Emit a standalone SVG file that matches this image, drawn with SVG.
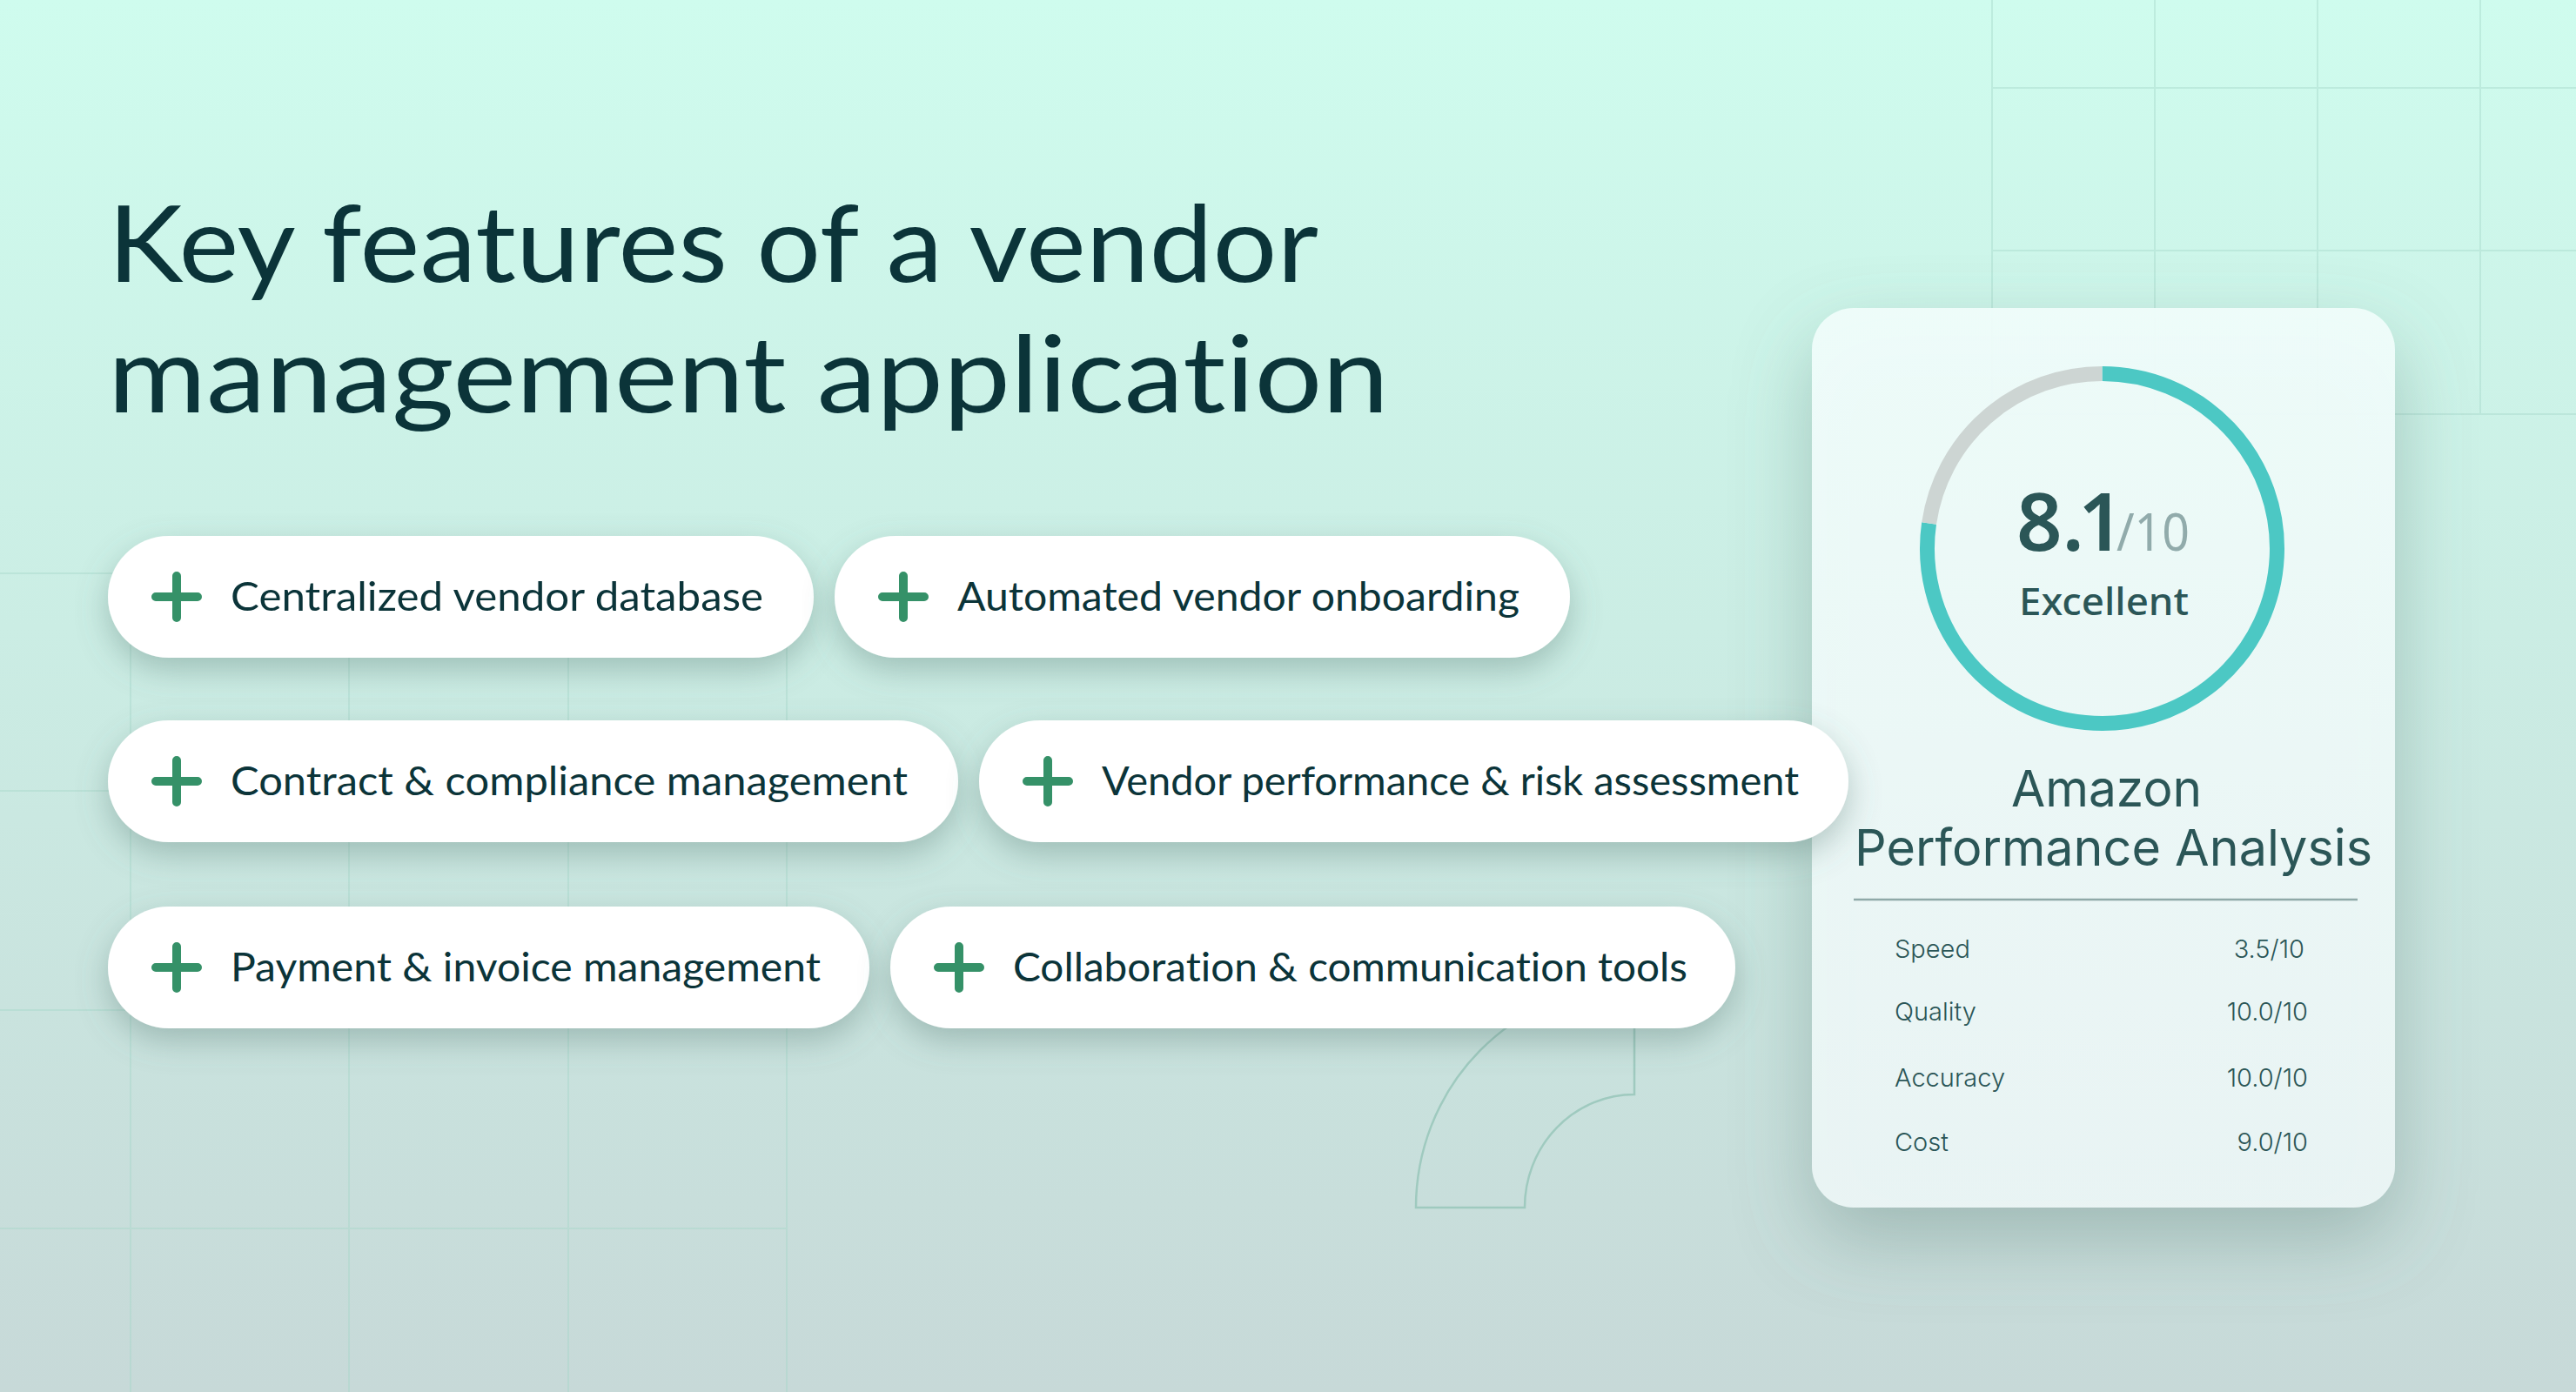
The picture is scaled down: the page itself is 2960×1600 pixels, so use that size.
<svg xmlns="http://www.w3.org/2000/svg" width="2960" height="1600" viewBox="0 0 2960 1600">
<defs>
<linearGradient id="bg" x1="0" y1="0" x2="0" y2="1"><stop offset="0" stop-color="#CFFCEE"/><stop offset="0.45" stop-color="#CBEDE4"/><stop offset="1" stop-color="#C7D9D8"/></linearGradient>
<linearGradient id="cardfill" x1="0" y1="0" x2="0" y2="1"><stop offset="0" stop-color="#F0FDFB"/><stop offset="1" stop-color="#ECF6F6"/></linearGradient>
<filter id="chipShadow" x="-10%" y="-30%" width="120%" height="180%"><feDropShadow dx="0" dy="14" stdDeviation="18" flood-color="#54786F" flood-opacity="0.38"/></filter>
<filter id="cardShadow" x="-25%" y="-15%" width="150%" height="135%"><feDropShadow dx="0" dy="36" stdDeviation="44" flood-color="#54786F" flood-opacity="0.38"/></filter>
<path id="plus" d="M-24 0H24M0 -24V24"/>
</defs>
<style>
.grid{fill:none;stroke:#A5D6C8;stroke-opacity:.42;stroke-width:2}
.chip{fill:#fff;filter:url(#chipShadow)}
.plus{fill:none;stroke:#359168;stroke-width:10;stroke-linecap:round}
.h1{font-family:"Lato","Liberation Sans",sans-serif;font-size:122px;fill:#0B3439;font-variant-ligatures:none}
.lab{font-family:"Lato","Liberation Sans",sans-serif;font-size:47px;fill:#0B3439;font-variant-ligatures:none}
.sc{font-family:"Noto Sans","Liberation Sans",sans-serif;fill:#2B5657}
.in{font-family:"Inter","Liberation Sans",sans-serif;fill:#2B5657}
.row{font-size:29px;font-weight:300}
.end{text-anchor:end}
</style>
<rect width="2960" height="1600" fill="url(#bg)"/>
<g id="background-grid" class="grid">
<path d="M150 659V1600M401 659V1600M653 659V1600M904 659V1600M0 659H904M0 909H904M0 1161H904M0 1412H904"/>
<path d="M2289 0V476M2476 0V476M2663 0V476M2850 0V476M2289 101H2960M2289 288H2960M2289 476H2960"/>
</g>
<path id="arc-shape" d="M1627 1388A251 255 0 0 1 1878 1133V1258A126 130 0 0 0 1752 1388Z" fill="none" stroke="#9FCABF" stroke-width="2.5"/>
<text class="h1" x="124" y="324" textLength="1391" lengthAdjust="spacingAndGlyphs">Key features of a vendor</text>
<text class="h1" x="124" y="474" textLength="1472" lengthAdjust="spacingAndGlyphs">management application</text>
<g id="score-card">
<rect x="2082" y="354" width="670" height="1034" rx="48" fill="url(#cardfill)" fill-opacity=".94" filter="url(#cardShadow)"/>
<path d="M2415.5 429.5A201 201 0 1 1 2216.6 601.5" fill="none" stroke="#4CC8C4" stroke-width="17"/>
<path d="M2216.6 601.5A201 201 0 0 1 2415.5 429.5" fill="none" stroke="#CDD5D3" stroke-width="17"/>
<text class="sc" x="2317" y="633" font-size="92" font-weight="600">8.<tspan dx="-7">1</tspan><tspan x="2432" font-size="60" font-weight="400" style="fill:#91ABAB" textLength="84" lengthAdjust="spacingAndGlyphs">/10</tspan></text>
<text class="sc" x="2320" y="707" font-size="44" font-weight="500" textLength="195" lengthAdjust="spacingAndGlyphs">Excellent</text>
<text class="in" x="2311" y="927" font-size="58" textLength="219" lengthAdjust="spacingAndGlyphs">Amazon</text>
<text class="in" x="2131" y="995" font-size="58" textLength="595" lengthAdjust="spacingAndGlyphs">Performance Analysis</text>
<line x1="2130" y1="1034" x2="2709" y2="1034" stroke="#8FA9A8" stroke-width="2.5"/>
<text class="in row" x="2177" y="1101">Speed</text><text class="in row end" x="2648" y="1101">3.5/10</text>
<text class="in row" x="2177" y="1173">Quality</text><text class="in row end" x="2652" y="1173">10.0/10</text>
<text class="in row" x="2177" y="1249">Accuracy</text><text class="in row end" x="2652" y="1249">10.0/10</text>
<text class="in row" x="2177" y="1323">Cost</text><text class="in row end" x="2652" y="1323">9.0/10</text>
</g>
<g id="chip-1"><rect class="chip" x="124" y="616" width="811" height="140" rx="70"/><use href="#plus" class="plus" x="203" y="686"/><text class="lab" x="265" y="702" textLength="612" lengthAdjust="spacingAndGlyphs">Centralized vendor database</text></g>
<g id="chip-2"><rect class="chip" x="959" y="616" width="845" height="140" rx="70"/><use href="#plus" class="plus" x="1038" y="686"/><text class="lab" x="1100" y="702" textLength="646" lengthAdjust="spacingAndGlyphs">Automated vendor onboarding</text></g>
<g id="chip-3"><rect class="chip" x="124" y="828" width="977" height="140" rx="70"/><use href="#plus" class="plus" x="203" y="898"/><text class="lab" x="265" y="914" textLength="778" lengthAdjust="spacingAndGlyphs">Contract &amp; compliance management</text></g>
<g id="chip-4"><rect class="chip" x="1125" y="828" width="999" height="140" rx="70"/><use href="#plus" class="plus" x="1204" y="898"/><text class="lab" x="1266" y="914" textLength="801" lengthAdjust="spacingAndGlyphs">Vendor performance &amp; risk assessment</text></g>
<g id="chip-5"><rect class="chip" x="124" y="1042" width="875" height="140" rx="70"/><use href="#plus" class="plus" x="203" y="1112"/><text class="lab" x="265" y="1128" textLength="678" lengthAdjust="spacingAndGlyphs">Payment &amp; invoice management</text></g>
<g id="chip-6"><rect class="chip" x="1023" y="1042" width="971" height="140" rx="70"/><use href="#plus" class="plus" x="1102" y="1112"/><text class="lab" x="1164" y="1128" textLength="775" lengthAdjust="spacingAndGlyphs">Collaboration &amp; communication tools</text></g>
<g id="connectors"/>
</svg>
